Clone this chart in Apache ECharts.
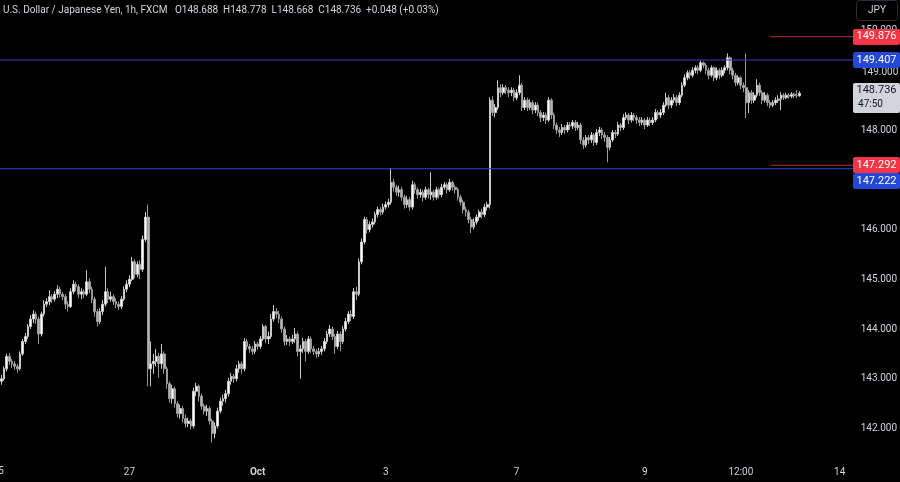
<!DOCTYPE html>
<html><head><meta charset="utf-8">
<script src="https://cdn.jsdelivr.net/npm/echarts@6/dist/echarts.min.js"></script>
<style>html,body{margin:0;padding:0;background:#000;}#c{width:900px;height:482px;}</style>
</head><body><div id="c"></div>
<script>
// hourly bar slots (index strings); 300 bars filled, rest is empty right margin
const categories = Array.from({length: 319}, (_, i) => String(i));
// time-axis labels keyed by bar slot (slot 0 label is half cut off at the left edge)
const tickLabels = {0: '25', 48: '27', 96: 'Oct', 144: '3', 193: '7', 241: '9', 277: '12:00', 314: '14'};
// [open, close, low, high]
const candles = [
[142.95,143.00,142.88,143.08],[143.00,143.20,142.96,143.25],[143.20,143.45,143.15,143.50],[143.45,143.35,143.28,143.52],
[143.35,143.30,143.22,143.40],[143.30,143.25,143.18,143.36],[143.25,143.20,143.12,143.30],[143.20,143.50,143.17,143.55],
[143.50,143.75,143.46,143.80],[143.75,143.85,143.70,143.92],[143.85,144.05,143.80,144.10],[144.05,144.20,144.00,144.28],
[144.20,144.30,144.12,144.38],[144.30,144.20,144.10,144.35],[144.20,143.90,143.70,144.25],[143.90,144.30,143.85,144.35],
[144.30,144.50,144.25,144.58],[144.50,144.55,144.44,144.62],[144.55,144.65,144.48,144.78],[144.65,144.60,144.52,144.70],
[144.60,144.70,144.55,144.76],[144.70,144.80,144.62,144.88],[144.80,144.70,144.63,144.85],[144.70,144.65,144.58,144.74],
[144.65,144.50,144.40,144.70],[144.50,144.45,144.35,144.56],[144.45,144.75,144.42,144.82],[144.75,144.90,144.70,144.98],
[144.90,144.85,144.76,144.95],[144.85,144.70,144.62,144.90],[144.70,144.75,144.60,144.82],[144.75,144.70,144.62,144.80],
[144.70,144.95,144.66,145.18],[144.95,144.80,144.72,145.02],[144.80,144.60,144.52,144.85],[144.60,144.35,144.25,144.65],
[144.35,144.15,144.05,144.40],[144.15,144.35,144.10,144.42],[144.35,144.50,144.28,144.58],[144.50,144.75,144.45,145.25],
[144.75,144.60,144.52,144.82],[144.60,144.65,144.55,144.75],[144.65,144.55,144.48,144.70],[144.55,144.50,144.42,144.62],
[144.50,144.45,144.38,144.55],[144.45,144.60,144.40,144.66],[144.60,144.80,144.56,144.86],[144.80,144.90,144.74,144.98],
[144.90,145.00,144.84,145.08],[145.00,145.35,144.96,145.45],[145.35,145.10,145.02,145.40],[145.10,145.30,145.04,145.36],
[145.30,145.20,145.00,145.38],[145.20,145.80,145.15,145.88],[145.80,146.25,145.75,146.35],[146.25,143.20,142.85,146.50],
[143.20,143.30,142.85,143.75],[143.30,143.35,143.10,143.50],[143.35,143.45,143.25,143.60],[143.45,143.30,143.02,143.52],
[143.30,143.50,143.20,143.70],[143.50,143.20,143.10,143.55],[143.20,142.90,142.80,143.25],[142.90,142.60,142.52,142.95],
[142.60,142.80,142.50,142.88],[142.80,142.50,142.42,142.85],[142.50,142.30,142.22,142.55],[142.30,142.40,142.20,142.48],
[142.40,142.20,142.12,142.45],[142.20,142.10,142.02,142.28],[142.10,142.15,142.03,142.22],[142.15,142.05,141.98,142.20],
[142.05,142.75,142.00,142.82],[142.75,142.85,142.65,142.92],[142.85,142.65,142.55,142.88],[142.65,142.45,142.38,142.70],
[142.45,142.35,142.28,142.50],[142.35,142.40,142.25,142.48],[142.40,142.15,142.08,142.45],[142.15,141.90,141.72,142.20],
[141.90,142.05,141.80,142.12],[142.05,142.35,142.00,142.42],[142.35,142.55,142.30,142.62],[142.55,142.60,142.46,142.68],
[142.60,142.70,142.52,142.78],[142.70,142.95,142.64,143.02],[142.95,143.05,142.88,143.12],[143.05,143.00,142.92,143.10],
[143.00,143.20,142.95,143.28],[143.20,143.30,143.12,143.36],[143.30,143.20,143.10,143.35],[143.20,143.75,143.15,143.82],
[143.75,143.65,143.58,143.80],[143.65,143.60,143.52,143.70],[143.60,143.55,143.48,143.66],[143.55,143.70,143.50,143.76],
[143.70,143.65,143.58,143.74],[143.65,143.80,143.60,143.86],[143.80,144.05,143.76,144.10],[144.05,143.80,143.72,144.08],
[143.80,143.85,143.70,143.95],[143.85,144.20,143.80,144.30],[144.20,144.35,144.15,144.48],[144.35,144.30,144.22,144.42],
[144.30,144.20,144.12,144.36],[144.20,144.00,143.92,144.25],[144.00,143.75,143.66,144.05],[143.75,143.80,143.68,143.88],
[143.80,143.75,143.66,143.85],[143.75,143.80,143.70,143.88],[143.80,143.90,143.72,144.02],[143.90,143.55,143.45,143.95],
[143.55,143.60,143.00,143.68],[143.60,143.75,143.52,143.82],[143.75,143.55,143.35,143.80],[143.55,143.80,143.50,143.86],
[143.80,143.60,143.52,143.85],[143.60,143.55,143.48,143.66],[143.55,143.50,143.42,143.60],[143.50,143.55,143.44,143.62],
[143.55,143.60,143.48,143.66],[143.60,143.75,143.55,143.82],[143.75,143.90,143.70,143.96],[143.90,144.00,143.84,144.08],
[144.00,143.85,143.78,144.05],[143.85,143.65,143.50,143.90],[143.65,143.90,143.60,143.96],[143.90,143.75,143.55,143.95],
[143.75,144.00,143.70,144.06],[144.00,144.15,143.95,144.22],[144.15,144.30,144.10,144.36],[144.30,144.25,144.16,144.38],
[144.25,144.75,144.20,144.82],[144.75,144.70,144.58,144.85],[144.70,145.35,144.66,145.42],[145.35,145.75,145.30,145.82],
[145.75,146.20,145.70,146.26],[146.20,146.00,145.92,146.25],[146.00,146.10,145.94,146.16],[146.10,146.15,146.04,146.22],
[146.15,146.30,146.10,146.36],[146.30,146.40,146.24,146.46],[146.40,146.35,146.28,146.45],[146.35,146.45,146.30,146.52],
[146.45,146.50,146.40,146.56],[146.50,146.55,146.44,146.62],[146.55,146.95,146.50,147.23],[146.95,146.85,146.76,147.02],
[146.85,146.75,146.68,146.90],[146.75,146.80,146.66,146.88],[146.80,146.65,146.58,146.86],[146.65,146.50,146.42,146.70],
[146.50,146.60,146.44,146.68],[146.60,146.45,146.38,146.66],[146.45,146.90,146.40,146.98],[146.90,146.80,146.72,146.95],
[146.80,146.70,146.62,146.85],[146.70,146.75,146.64,146.82],[146.75,146.65,146.56,146.80],[146.65,146.80,146.60,146.86],
[146.80,146.70,146.62,146.84],[146.70,146.75,146.60,147.15],[146.75,146.65,146.58,146.80],[146.65,146.80,146.60,146.86],
[146.80,146.70,146.62,146.84],[146.70,146.85,146.65,146.92],[146.85,146.90,146.80,146.96],[146.90,146.80,146.72,146.94],
[146.80,146.95,146.76,147.02],[146.95,146.85,146.78,146.98],[146.85,146.80,146.72,146.90],[146.80,146.65,146.58,146.84],
[146.65,146.55,146.48,146.70],[146.55,146.40,146.32,146.60],[146.40,146.35,146.26,146.46],[146.35,146.20,146.12,146.40],
[146.20,146.05,145.93,146.25],[146.05,146.15,146.00,146.22],[146.15,146.25,146.10,146.30],[146.25,146.35,146.18,146.40],
[146.35,146.30,146.22,146.42],[146.30,146.45,146.25,146.52],[146.45,146.50,146.38,146.56],[146.50,148.60,146.42,148.66],
[148.60,148.35,148.28,148.68],[148.35,148.45,148.25,148.52],[148.45,148.85,148.40,149.00],[148.85,148.75,148.66,148.92],
[148.75,148.85,148.70,148.92],[148.85,148.80,148.72,148.90],[148.80,148.75,148.66,148.86],[148.75,148.80,148.68,148.86],
[148.80,148.65,148.58,148.84],[148.65,148.75,148.60,148.82],[148.75,148.90,148.70,149.10],[148.90,148.45,148.38,148.95],
[148.45,148.60,148.40,148.66],[148.60,148.45,148.38,148.65],[148.45,148.55,148.40,148.62],[148.55,148.40,148.32,148.60],
[148.40,148.50,148.34,148.56],[148.50,148.35,148.28,148.55],[148.35,148.25,148.16,148.40],[148.25,148.30,148.18,148.36],
[148.30,148.20,148.12,148.35],[148.20,148.60,148.16,148.66],[148.60,148.30,148.22,148.64],[148.30,148.10,148.02,148.35],
[148.10,148.00,147.92,148.15],[148.00,147.95,147.86,148.06],[147.95,148.05,147.90,148.12],[148.05,148.00,147.92,148.10],
[148.00,148.10,147.95,148.16],[148.10,148.08,148.00,148.16],[148.08,148.15,148.02,148.20],[148.15,148.05,147.98,148.20],
[148.05,148.10,148.00,148.16],[148.10,147.80,147.72,148.14],[147.80,147.70,147.62,147.86],[147.70,147.85,147.65,147.90],
[147.85,147.80,147.72,147.90],[147.80,147.90,147.74,147.96],[147.90,147.75,147.68,147.94],[147.75,147.95,147.70,148.02],
[147.95,148.00,147.88,148.06],[148.00,147.90,147.82,148.05],[147.90,147.85,147.76,147.96],[147.85,147.65,147.35,147.90],
[147.65,147.80,147.60,147.86],[147.80,147.95,147.76,148.00],[147.95,147.92,147.84,148.00],[147.92,148.10,147.88,148.16],
[148.10,148.05,147.98,148.14],[148.05,148.25,148.00,148.32],[148.25,148.30,148.20,148.36],[148.30,148.20,148.12,148.34],
[148.20,148.30,148.15,148.36],[148.30,148.25,148.18,148.34],[148.25,148.20,148.12,148.30],[148.20,148.15,148.08,148.26],
[148.15,148.20,148.10,148.26],[148.20,148.10,148.02,148.24],[148.10,148.20,148.06,148.26],[148.20,148.15,148.08,148.25],
[148.15,148.20,148.10,148.26],[148.20,148.35,148.16,148.42],[148.35,148.30,148.22,148.40],[148.30,148.35,148.24,148.42],
[148.35,148.50,148.30,148.56],[148.50,148.65,148.46,148.75],[148.65,148.50,148.42,148.70],[148.50,148.60,148.44,148.66],
[148.60,148.65,148.54,148.72],[148.65,148.55,148.48,148.70],[148.55,148.70,148.50,148.76],[148.70,148.90,148.66,148.96],
[148.90,149.05,148.86,149.12],[149.05,149.15,149.00,149.20],[149.15,149.10,149.02,149.20],[149.10,149.20,149.06,149.26],
[149.20,149.25,149.14,149.30],[149.25,149.20,149.12,149.30],[149.20,149.35,149.16,149.40],[149.35,149.30,149.24,149.38],
[149.30,149.20,149.12,149.34],[149.20,149.10,149.02,149.25],[149.10,149.25,149.06,149.30],[149.25,149.05,148.98,149.28],
[149.05,149.20,149.00,149.26],[149.20,149.10,149.02,149.24],[149.10,149.20,149.06,149.26],[149.20,149.25,149.14,149.30],
[149.25,149.45,149.20,149.54],[149.45,149.20,149.12,149.48],[149.20,149.10,149.02,149.25],[149.10,148.95,148.88,149.15],
[148.95,149.05,148.90,149.10],[149.05,148.90,148.82,149.08],[148.90,148.85,148.76,148.96],[148.85,148.55,148.24,149.54],
[148.55,148.75,148.34,148.80],[148.75,148.60,148.52,148.80],[148.60,148.70,148.54,148.76],[148.70,148.90,148.65,149.02],
[148.90,148.75,148.68,148.95],[148.75,148.60,148.52,148.80],[148.60,148.70,148.55,148.76],[148.70,148.55,148.48,148.74],
[148.55,148.50,148.44,148.60],[148.50,148.55,148.46,148.60],[148.55,148.60,148.50,148.66],[148.60,148.62,148.54,148.70],
[148.62,148.70,148.40,148.76],[148.70,148.65,148.60,148.74],[148.65,148.70,148.62,148.75],[148.70,148.68,148.63,148.74],
[148.68,148.72,148.64,148.76],[148.72,148.69,148.64,148.75],[148.69,148.688,148.64,148.80],[148.688,148.736,148.668,148.778]
];
const blueLevels = [149.407, 147.222];
const redLevels = [149.876, 147.292];
const redStartSlot = '288';
const priceTicks = [142, 143, 144, 145, 146, 148, 150];
const lastPrice = 148.736, countdown = '47:50';
const title = 'U.S. Dollar / Japanese Yen, 1h, FXCM   O148.688  H148.778  L148.668  C148.736  +0.048 (+0.03%)';

const FONT = 'Roboto, "Noto Sans", sans-serif';
const TXT = '#d1d4dc';
const chart = echarts.init(document.getElementById('c'), null, {renderer: 'canvas'});

chart.setOption({
  backgroundColor: '#000000',
  animation: false,
  grid: {left: 0, right: 47, top: 0, bottom: 20, containLabel: false},
  xAxis: {
    type: 'category', data: categories, boundaryGap: true,
    axisLine: {show: false}, axisTick: {show: false}, splitLine: {show: false},
    axisLabel: {
      interval: (idx) => idx > 0 && tickLabels[idx] !== undefined,
      formatter: (val, idx) => tickLabels[idx] === 'Oct' ? '{b|Oct}' : (tickLabels[idx] || ''),
      color: TXT, fontSize: 10, fontFamily: FONT, margin: 5,
      rich: {b: {fontWeight: 'bold', color: TXT, fontSize: 10, fontFamily: FONT}}
    }
  },
  yAxis: {
    type: 'value', position: 'right', min: 141.327, max: 150.613, scale: true, splitNumber: 9,
    axisLine: {show: false}, axisTick: {show: false}, splitLine: {show: false},
    axisLabel: {
      color: TXT, fontSize: 10, fontFamily: FONT, margin: 9, align: 'left',
      formatter: (v) => priceTicks.indexOf(Math.round(v * 1000) / 1000) >= 0 ? v.toFixed(3) : ''
    }
  },
  series: [{
    type: 'candlestick', data: candles, barWidth: 2.2,
    itemStyle: {color: '#ffffff', color0: '#b4b4b4', borderColor: '#c8c8c8', borderColor0: '#9a9a9a', borderWidth: 1}
  }]
});

function yPix(v) { return chart.convertToPixel({yAxisIndex: 0}, v); }
const plotRight = 853;
const g = [];
// horizontal level lines
blueLevels.forEach(v => {
  const y = yPix(v);
  g.push({type: 'line', z: 5, shape: {x1: 0, y1: y, x2: plotRight, y2: y}, style: {stroke: '#3441cc', lineWidth: 1}});
});
const redX = chart.convertToPixel({xAxisIndex: 0}, redStartSlot);
redLevels.forEach(v => {
  const y = yPix(v);
  g.push({type: 'line', z: 5, shape: {x1: redX, y1: y, x2: plotRight, y2: y}, style: {stroke: '#b8323a', lineWidth: 1}});
});
const tagX = 853, tagW = 47, tagH = 16;
function tag(v, yc, bg, fg) {
  g.push({type: 'rect', z: 100, shape: {x: tagX, y: Math.round(yc - tagH / 2), width: tagW, height: tagH, r: 2}, style: {fill: bg}});
  g.push({type: 'text', z: 101, x: tagX + tagW / 2, y: yc, style: {text: v.toFixed(3), fill: fg, font: '11px ' + FONT, align: 'center', verticalAlign: 'middle'}});
}
tag(redLevels[0], yPix(redLevels[0]), '#f23645', '#ffffff');
tag(blueLevels[0], yPix(blueLevels[0]), '#2448d6', '#ffffff');
tag(redLevels[1], yPix(redLevels[1]), '#f23645', '#ffffff');
tag(blueLevels[1], yPix(redLevels[1]) + tagH, '#2448d6', '#ffffff');
// 149.000 label (shifted up by the price tag)
g.push({type: 'text', z: 90, x: 862, y: yPix(149) - 8, style: {text: '149.000', fill: TXT, font: '10px ' + FONT, align: 'left', verticalAlign: 'middle'}});
// first time label, cut off by the left edge
const x0 = chart.convertToPixel({xAxisIndex: 0}, '0');
g.push({type: 'text', z: 90, x: x0 - 3, y: 471, style: {text: tickLabels[0], fill: TXT, font: '10px ' + FONT, align: 'center', verticalAlign: 'middle'}});
// current price tag with countdown
const ly = yPix(lastPrice);
g.push({type: 'rect', z: 100, shape: {x: tagX, y: Math.round(ly - 10), width: tagW, height: 30, r: 2}, style: {fill: '#d1d4dc'}});
g.push({type: 'text', z: 101, x: tagX + tagW / 2, y: ly - 3, style: {text: lastPrice.toFixed(3), fill: '#131722', font: '11px ' + FONT, align: 'center', verticalAlign: 'middle'}});
g.push({type: 'text', z: 101, x: tagX + tagW / 2 - 6, y: ly + 11, style: {text: countdown, fill: '#131722', font: '10px ' + FONT, align: 'center', verticalAlign: 'middle'}});
// title
g.push({type: 'text', z: 100, x: 3, y: 10, style: {text: title, fill: TXT, font: '10px ' + FONT, align: 'left', verticalAlign: 'middle'}});
// JPY button
g.push({type: 'rect', z: 100, shape: {x: 856.5, y: 0.5, width: 41, height: 20, r: 3}, style: {fill: '#000000', stroke: '#2a2e39', lineWidth: 1}});
g.push({type: 'text', z: 101, x: 877, y: 10.5, style: {text: 'JPY', fill: TXT, font: '10px ' + FONT, align: 'center', verticalAlign: 'middle'}});
chart.setOption({graphic: g});
</script></body></html>
